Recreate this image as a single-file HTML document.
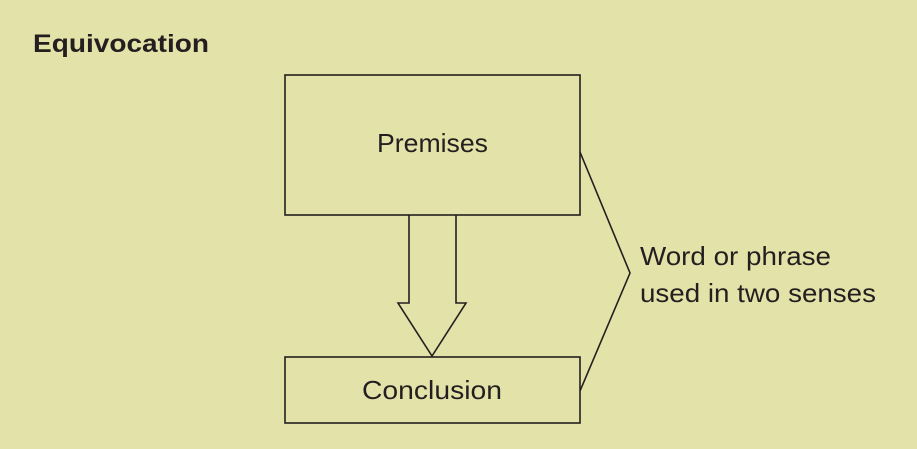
<html><body style="margin:0;background:#e3e2a8;width:917px;height:449px;overflow:hidden">
<svg width="917" height="449" style="position:absolute;left:0;top:0" font-family="Liberation Sans, sans-serif">
<rect width="917" height="449" fill="#e3e2a8"/>
<text x="33" y="52" font-size="25" font-weight="bold" fill="#231f20" textLength="176" lengthAdjust="spacingAndGlyphs">Equivocation</text>
<g fill="none" stroke="#231f20" stroke-width="1.6">
<rect x="285" y="75" width="295" height="140"/>
<rect x="285" y="357" width="295" height="66"/>
<polyline points="409,215 409,303 398,303 432,356 466,303 456,303 456,215"/>
<polyline points="580,152 630,273 580,391"/>
</g>
<g fill="#231f20" font-size="26">
<text x="377" y="152" textLength="111" lengthAdjust="spacingAndGlyphs">Premises</text>
<text x="362" y="399" textLength="140" lengthAdjust="spacingAndGlyphs">Conclusion</text>
<text x="640" y="265" textLength="191" lengthAdjust="spacingAndGlyphs">Word or phrase</text>
<text x="640" y="302" textLength="236" lengthAdjust="spacingAndGlyphs">used in two senses</text>
</g>
</svg>
</body></html>
